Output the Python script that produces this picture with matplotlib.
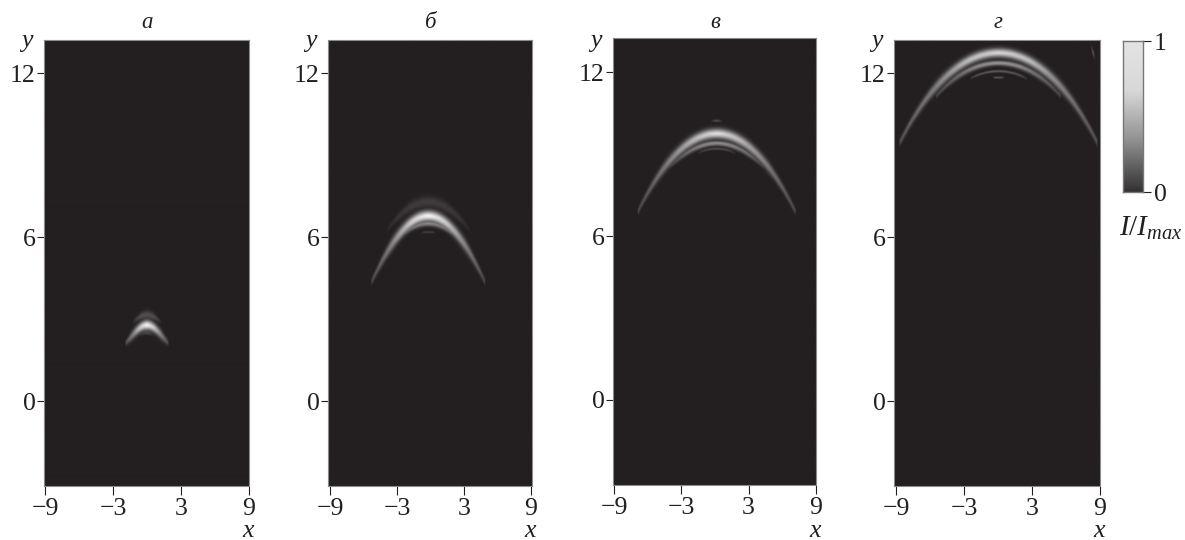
import numpy as np
import matplotlib
matplotlib.use("Agg")
import matplotlib.pyplot as plt
from matplotlib.colors import LinearSegmentedColormap

plt.rcParams['font.family'] = ['Liberation Serif', 'DejaVu Serif']
plt.rcParams['mathtext.fontset'] = 'custom'
plt.rcParams['mathtext.it'] = 'Liberation Serif:italic'
plt.rcParams['mathtext.rm'] = 'Liberation Serif'

W, H = 1185, 540

panel_titles = ['а', 'б', 'в', 'г']
x_ticks = [-9, -3, 3, 9]
y_ticks = [0, 6, 12]
x_tick_labels = ['\u22129', '\u22123', '3', '9']
y_tick_labels = ['0', '6', '12']
panel_shift = [0.0, -0.2, 0.15, 0.05]

# each arc: half-span points |x|, ridge y, brightness, vertical spread
a_main = ([0, 0.6, 1.3, 1.9], [2.78, 2.68, 2.40, 2.12], [1.0, 0.80, 0.42, 0.20], [0.12, 0.12, 0.12, 0.07])
a_up = ([0, 0.5, 0.9, 1.25], [3.15, 3.10, 3.00, 2.88], [0.22, 0.22, 0.16, 0.05], [0.11, 0.10, 0.07, 0.05])
a_low = ([0, 0.3, 0.5, 0.7], [2.50, 2.48, 2.45, 2.40], [0.20, 0.16, 0.10, 0.03], [0.05, 0.05, 0.05, 0.04])

b_main = ([0, 1.5, 3.3, 5.1], [6.77, 6.55, 5.70, 4.35], [1.0, 0.82, 0.46, 0.20], [0.13, 0.14, 0.16, 0.08])
b_up = ([0, 1.5, 2.8, 3.7], [7.30, 7.10, 6.70, 6.25], [0.14, 0.13, 0.10, 0.04], [0.14, 0.14, 0.10, 0.06])
b_low = ([0, 1.2, 2.2, 2.95], [6.50, 6.38, 6.12, 5.80], [0.48, 0.40, 0.30, 0.12], [0.07, 0.07, 0.07, 0.05])
b_tip = ([0, 0.3, 0.45, 0.6], [6.18, 6.18, 6.17, 6.16], [0.16, 0.16, 0.12, 0.03], [0.025, 0.025, 0.025, 0.025])

c_main = ([0, 2.0, 4.6, 7.05], [9.77, 9.50, 8.55, 6.88], [0.90, 0.72, 0.42, 0.20], [0.12, 0.13, 0.14, 0.08])
c_low = ([0, 1.5, 3.0, 4.25], [9.40, 9.28, 8.95, 8.50], [0.52, 0.46, 0.32, 0.12], [0.06, 0.07, 0.07, 0.05])
c_third = ([0, 0.7, 1.2, 1.65], [9.20, 9.17, 9.12, 9.03], [0.22, 0.20, 0.16, 0.06], [0.03, 0.03, 0.03, 0.03])
c_tip = ([0, 0.25, 0.45, 0.6], [10.22, 10.22, 10.21, 10.20], [0.22, 0.18, 0.05, 0.0], [0.03, 0.03, 0.03, 0.03])

d_main = ([0, 2.6, 5.5, 8.75], [12.73, 12.50, 11.50, 9.44], [0.85, 0.75, 0.46, 0.24], [0.11, 0.12, 0.14, 0.09])
d_low = ([0, 1.8, 3.7, 5.5], [12.37, 12.25, 11.85, 11.16], [0.56, 0.50, 0.34, 0.18], [0.06, 0.07, 0.08, 0.06])
d_third = ([0, 1.0, 1.9, 2.5], [12.07, 12.03, 11.92, 11.80], [0.30, 0.28, 0.24, 0.10], [0.03, 0.03, 0.03, 0.03])
d_tip = ([0, 0.2, 0.35, 0.5], [11.84, 11.84, 11.84, 11.84], [0.28, 0.28, 0.22, 0.05], [0.025, 0.025, 0.025, 0.025])

panel_arcs = [
    [a_main, a_up, a_low],
    [b_main, b_up, b_low, b_tip],
    [c_main, c_low, c_third, c_tip],
    [d_main, d_low, d_third, d_tip],
]
speck_x, speck_y, speck_v = [8.4], [12.75], [0.3]

# pixel layout: left, right, top, bottom, px of y=0, px of x=-9, px of x=9
px_left = [44, 328, 613, 894]
px_right = [249, 532, 816, 1100]
px_top = [40, 40, 38, 40]
px_bottom = [486, 486, 485, 486]
px_y0 = [401, 401, 400, 401]
px_xm9 = [45, 330, 614, 896]
px_x9 = [249, 531, 816, 1100]
PX_PER_Y = 27.33

INK = '#231f20'
cmap = LinearSegmentedColormap.from_list('g', [INK, '#f2f2f2'])
fig = plt.figure(figsize=(W / 100, H / 100), dpi=100, facecolor='white')


def rect(l, r, t, b):
    return [l / W, 1 - b / H, (r - l) / W, (b - t) / H]


def render(arcs, shift, xlim, ylim, speck=False):
    gx = np.linspace(xlim[0], xlim[1], 820)
    gy = np.linspace(ylim[0], ylim[1], 1780)
    X, Y = np.meshgrid(gx, gy)
    Z = np.zeros_like(X)
    for xs, ys, bs, ss in arcs:
        xs = np.asarray(xs, float)
        coef = np.polyfit(xs ** 2, ys, 2)
        r = np.abs(X - shift)
        yc = np.polyval(coef, r ** 2)
        b = np.interp(r, xs, bs)
        s = np.interp(r, xs, ss)
        v = b * np.exp(-0.5 * ((Y - yc) / s) ** 2)
        v[r > xs[-1]] = 0
        Z = np.maximum(Z, v) + 0.15 * np.minimum(Z, v)
    if speck:
        for sx, sy, sv in zip(speck_x, speck_y, speck_v):
            Z += sv * np.exp(-0.5 * (((X - sx + 0.6 * (Y - sy)) / 0.05) ** 2 + ((Y - sy) / 0.13) ** 2))
    return np.clip(Z, 0, 1)


for i in range(4):
    l, r, t, b = px_left[i], px_right[i], px_top[i], px_bottom[i]
    ax = fig.add_axes(rect(l, r, t, b))
    sx = (px_x9[i] - px_xm9[i]) / 18
    xlim = (-9 + (l - px_xm9[i]) / sx, 9 + (r - px_x9[i]) / sx)
    ylim = ((px_y0[i] - b) / PX_PER_Y, (px_y0[i] - t) / PX_PER_Y)
    Z = render(panel_arcs[i], panel_shift[i], xlim, ylim, speck=(i == 3))
    ax.imshow(Z, origin='lower', extent=[*xlim, *ylim], aspect='auto', cmap=cmap, vmin=0, vmax=1,
              interpolation='bilinear')
    ax.set_xlim(xlim)
    ax.set_ylim(ylim)
    for s in ax.spines.values():
        s.set_color('#8a8a8a')
        s.set_linewidth(0.8)
    ax.set_xticks(x_ticks, x_tick_labels, fontsize=18.5, color=INK)
    ax.set_yticks(y_ticks, y_tick_labels, fontsize=18.5, color=INK)
    ax.tick_params(axis='x', length=6.5, width=0.8, color=INK, pad=2)
    ax.tick_params(axis='y', length=5, width=0.8, color=INK, pad=1)
    cx = (px_xm9[i] + px_x9[i]) / 2
    fig.text(cx / W, 1 - 23 / H, panel_titles[i], fontsize=16.5, style='italic', ha='center', va='center', color=INK)
    fig.text((px_left[i] - 17) / W, 1 - 41 / H, 'y', fontsize=18.5, style='italic', ha='center', va='center', color=INK)
    fig.text((px_x9[i] - 1) / W, 1 - 531 / H, 'x', fontsize=18.5, style='italic', ha='center', va='center', color=INK)

# colour bar
cb_levels = np.linspace(1, 0, 256)[:, None]
cax = fig.add_axes(rect(1123, 1143, 41, 192))
cax.imshow(cb_levels, aspect='auto', extent=[0, 1, 0, 1], vmin=0, vmax=1, interpolation='bilinear',
           cmap=LinearSegmentedColormap.from_list('c', ['#333132', '#8f8f8f', '#d8d8d9', '#e4e4e5']))
cax.set_xticks([])
cax.yaxis.tick_right()
cax.set_yticks([0, 1], ['0', '1'], fontsize=18.5, color=INK)
cax.tick_params(axis='y', length=6, width=0.8, color=INK, pad=2)
for s in cax.spines.values():
    s.set_color('#777777')
    s.set_linewidth(1.0)
fig.text(1151 / W, 1 - 228 / H, r'$I/I_{max}$', fontsize=21, ha='center', va='center', color=INK)

fig.savefig('out.png', dpi=100, facecolor='white')
